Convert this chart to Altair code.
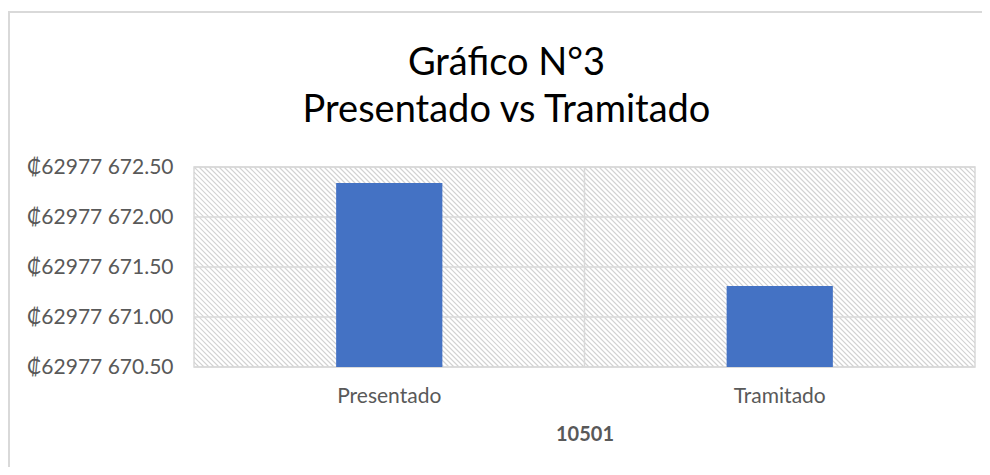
import altair as alt
import pandas as pd

categorias = ["Presentado", "Tramitado"]
montos = [62977672.34, 62977671.31]
ticks_y = [62977670.5, 62977671.0, 62977671.5, 62977672.0, 62977672.5]
titulo = ["Gráfico N°3", "Presentado vs Tramitado"]
titulo_x = "10501"

W, H = 781, 200
FONT = "Lato"
GRAY_TXT = "#595959"
GRID = "#d9d9d9"
HATCH = "#d2d2d2"
HATCH_STEP = 5

# background hatch (decorative diagonal lines across the plot area, pixel units)
hatch_start = list(range(-H, W + HATCH_STEP, HATCH_STEP))
df_hatch = pd.DataFrame({
    "xa": hatch_start,
    "xb": [s + H for s in hatch_start],
    "ya": [0] * len(hatch_start),
    "yb": [H] * len(hatch_start),
})

df = pd.DataFrame({"categoria": categorias, "monto": montos})
df_ticks = pd.DataFrame({"monto": ticks_y})
df_title = pd.DataFrame({"t": ["\n".join(titulo)]})
one = pd.DataFrame({"z": [0]})

yscale = alt.Scale(domain=[ticks_y[0], ticks_y[-1]], zero=False, nice=False)
xscale = alt.Scale(domain=categorias, paddingInner=0, paddingOuter=0)

label_expr = "'₡' + floor(datum.value / 1000) + ' ' + format(datum.value % 1000, '.2f')"

xaxis = alt.Axis(
    title=titulo_x,
    labelAngle=0,
    labelFont=FONT,
    labelFontSize=21,
    labelColor=GRAY_TXT,
    labelPadding=18,
    titleFont=FONT,
    titleFontSize=20,
    titleFontWeight="bold",
    titleColor=GRAY_TXT,
    titlePadding=18,
    ticks=False,
    domain=False,
    grid=False,
)
yaxis = alt.Axis(
    title=None,
    values=ticks_y,
    labelExpr=label_expr,
    labelFont=FONT,
    labelFontSize=21,
    labelColor=GRAY_TXT,
    labelPadding=21,
    ticks=False,
    domain=False,
    grid=False,
)

outer = alt.Chart(one).mark_rect(
    filled=False, stroke=GRID, strokeWidth=2, clip=False
).encode(
    x=alt.value(-185), x2=alt.value(W + 400), y=alt.value(-155), y2=alt.value(H + 400)
)

title_mark = alt.Chart(df_title).mark_text(
    font=FONT, fontSize=38, color="#000000", align="center", baseline="alphabetic",
    lineBreak="\n", lineHeight=47,
).encode(text="t:N", x=alt.value(W / 2 - 78), y=alt.value(-92))

hatch = alt.Chart(df_hatch).mark_rule(color=HATCH, strokeWidth=1.2, clip=True).encode(
    x=alt.X("xa:Q", scale=alt.Scale(domain=[0, W], nice=False, zero=False), axis=None),
    x2="xb:Q",
    y=alt.Y("ya:Q", scale=alt.Scale(domain=[0, H], nice=False, zero=False, reverse=True), axis=None),
    y2="yb:Q",
)

hgrid = alt.Chart(df_ticks).mark_rule(color=GRID, strokeWidth=1.5).encode(
    y=alt.Y("monto:Q", scale=yscale, axis=None)
)

vgrid = alt.Chart(one).mark_rule(color=GRID, strokeWidth=1.5).encode(
    x=alt.X(datum="Tramitado", type="nominal", bandPosition=0, scale=xscale, axis=None)
)

bars = alt.Chart(df).mark_bar(
    color="#4472C4", width=alt.RelativeBandSize(0.272)
).encode(
    x=alt.X("categoria:N", scale=xscale, sort=categorias, axis=xaxis),
    y=alt.Y("monto:Q", scale=yscale, axis=yaxis),
    y2=alt.Y2(datum=ticks_y[0]),
)

chart = alt.layer(outer, hatch, hgrid, vgrid, bars, title_mark).resolve_scale(
    x="independent", y="independent"
).properties(
    width=W,
    height=H,
    padding={"left": 186, "top": 159, "right": 7, "bottom": 100},
    autosize=alt.AutoSizeParams(type="none"),
).configure_view(stroke=GRID, strokeWidth=1.5)

chart.save("out.html", embed_options={"renderer": "svg", "actions": False})
